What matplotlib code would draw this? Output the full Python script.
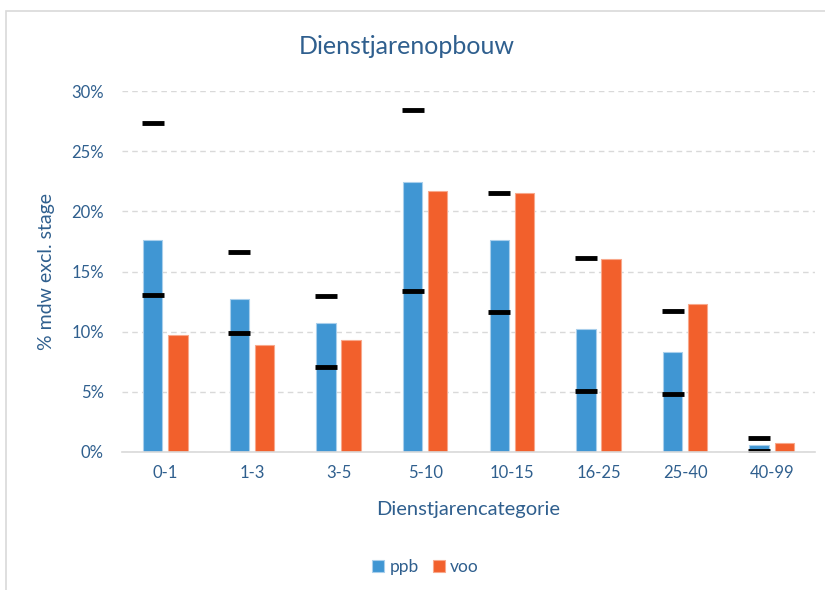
import numpy as np
import matplotlib
matplotlib.use("Agg")
import matplotlib.pyplot as plt
from matplotlib.patches import Rectangle
from matplotlib.ticker import PercentFormatter

categories = ["0-1", "1-3", "3-5", "5-10", "10-15", "16-25", "25-40", "40-99"]
ppb = [17.6, 12.7, 10.75, 22.45, 17.6, 10.2, 8.35, 0.55]
voo = [9.75, 8.9, 9.3, 21.7, 21.5, 16.0, 12.3, 0.72]
# zwarte streepjes bij ppb
mark_hi = [27.3, 16.6, 12.95, 28.4, 21.55, 16.15, 11.75, 1.2]
mark_lo = [13.05, 9.85, 7.1, 13.4, 11.6, 5.05, 4.85, 0.05]

blue = "#4096D3"
orange = "#F2602C"
textcol = "#2F5F8E"

plt.rcParams["font.family"] = ["Lato", "DejaVu Sans"]

fig = plt.figure(figsize=(8.25, 5.9), dpi=100)
fig.patches.append(Rectangle((6 / 825, -0.1), 1.2, 1.1 - 11 / 590, transform=fig.transFigure,
                             fill=False, edgecolor="#D9D9D9", linewidth=1.2))
ax = fig.add_axes([122 / 825, (590 - 452) / 590, 693 / 825, 361 / 590])

x = np.arange(len(categories))
w = 0.225
off = 0.145
ax.bar(x - off, ppb, width=w, color=blue, edgecolor="#A9CFEC", linewidth=0.8, label="ppb", zorder=3)
ax.bar(x + off, voo, width=w, color=orange, edgecolor="#F8A88B", linewidth=0.8, label="voo", zorder=3)
ax.plot(x - off, mark_hi, linestyle="none", marker="_", markersize=16, markeredgewidth=3.5, color="black", zorder=4)
ax.plot(x - off, mark_lo, linestyle="none", marker="_", markersize=16, markeredgewidth=3.5, color="black", zorder=4)

ax.set_xlim(-0.5, len(categories) - 0.5)
ax.set_ylim(0, 30)
ax.set_yticks(range(0, 31, 5))
ax.yaxis.set_major_formatter(PercentFormatter(decimals=0))
ax.set_xticks(x)
ax.set_xticklabels(categories)
ax.tick_params(axis="both", length=0, labelsize=12, labelcolor=textcol)
ax.tick_params(axis="x", pad=9)
ax.tick_params(axis="y", pad=13)
ax.grid(axis="y", color="#D9D9D9", linestyle=(0, (4, 3)), linewidth=1, zorder=0)
for s in ["top", "right", "left"]:
    ax.spines[s].set_visible(False)
ax.spines["bottom"].set_color("#D9D9D9")
ax.spines["bottom"].set_linewidth(1.2)
ax.spines["bottom"].set_zorder(5)

ax.set_ylabel("% mdw excl. stage", fontsize=14, color=textcol, labelpad=12)
ax.set_xlabel("Dienstjarencategorie", fontsize=14.5, color=textcol, labelpad=15)
fig.text(0.5 - 6 / 825, 1 - 47 / 590, "Dienstjarenopbouw", fontsize=18, color=textcol,
         ha="center", va="center")

leg = ax.legend(loc="center", bbox_to_anchor=(0.438, -0.318), ncol=2, frameon=False,
                fontsize=12.5, handlelength=0.7, handleheight=0.7, handletextpad=0.3,
                columnspacing=0.8)
for t in leg.get_texts():
    t.set_color(textcol)

fig.savefig("out.png", dpi=100)
